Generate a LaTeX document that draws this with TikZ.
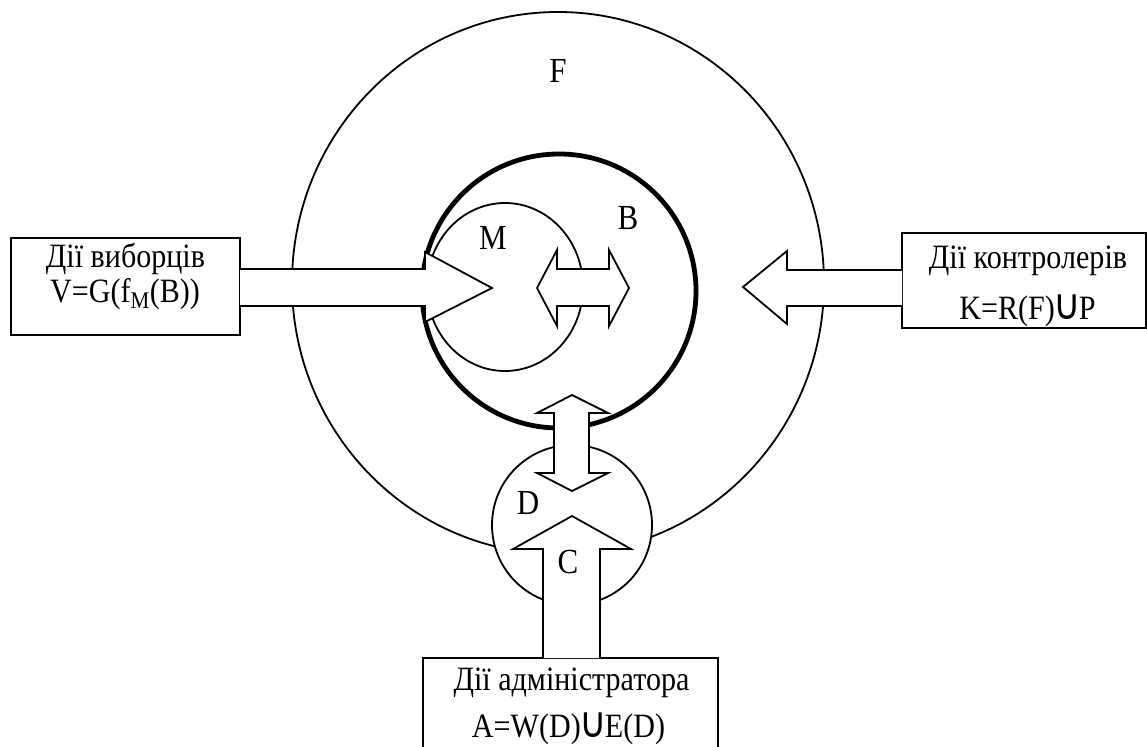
\documentclass[tikz,border=0pt]{standalone}
\usepackage{fontspec}
\setmainfont{Liberation Serif}
\newfontfamily\symfont{DejaVu Sans}[Scale=1.25]
\usetikzlibrary{shapes.geometric}
\newcommand{\unionsym}{\kern-1.5pt{\symfont ∪}\kern-2pt}
\newcommand{\tall}[1]{\scalebox{0.97}[1.1]{#1}}
\begin{document}
\begin{tikzpicture}[x=1pt,y=-1pt,
  thin line/.style={line width=1.8pt},
  ring/.style={ellipse, draw, thin line, inner sep=0pt},
  thick ring/.style={circle, draw, line width=4.8pt, inner sep=0pt},
  blockarrow/.style={draw, fill=white, thin line, line join=miter},
  actionbox/.style={draw, thin line, fill=white},
  lbl/.style={font=\fontsize{32}{36}\selectfont, inner sep=0pt},
  boxtext/.style={font=\fontsize{31}{36}\selectfont, inner sep=0pt, anchor=base}]
\useasboundingbox (0,0) rectangle (1147,746);
\clip (0,0) rectangle (1147,746);

% outer field F, working set B, subset M and data store D
\node[ring, minimum width=532pt, minimum height=542pt] (F) at (558,283) {};
\node[thick ring, minimum size=274pt] (B) at (559,291) {};
\node[ring, minimum width=156pt, minimum height=168pt] (M) at (505,287) {};
\node[ring, fill=white, minimum width=160pt, minimum height=160pt] (D) at (572,525) {};

% set labels
\node[lbl] (lF) at (558,71) {\tall{F}};
\node[lbl] (lM) at (493,238) {\tall{M}};
\node[lbl] (lB) at (628,218) {\tall{B}};
\node[lbl] (lD) at (528,503) {\tall{D}};

% action boxes
\draw[actionbox] (11,238) rectangle (240,335);
\draw[actionbox] (902,233) rectangle (1146,328);
\draw[actionbox] (423,658) rectangle (718,770);

% voters' action into B
\draw[blockarrow] (240,269) -- (425,269) -- (425,252) -- (492,288) -- (425,322) -- (425,306) -- (240,306);
% exchange between M and B
\draw[blockarrow] (537,288) -- (557,250) -- (557,269) -- (609,269) -- (609,250) -- (629,288)
  -- (609,326) -- (609,306) -- (557,306) -- (557,326) -- cycle;
% controllers' action on F
\draw[blockarrow] (902,270) -- (787,270) -- (787,251) -- (743,287) -- (787,324) -- (787,306) -- (902,306);
% exchange between B and D
\draw[blockarrow] (572,395) -- (608,413) -- (589,413) -- (589,473) -- (608,473) -- (572,491)
  -- (537,473) -- (554,473) -- (554,413) -- (537,413) -- cycle;
% administrator's action C into D
\draw[blockarrow] (543,658) -- (543,549) -- (513,549) -- (572,516) -- (631,549) -- (600,549) -- (600,658);
\node[lbl] (lC) at (568,562) {\tall{C}};

% box texts
\node[boxtext] (v1) at (125.5,267) {\tall{Дії виборців}};
\node[boxtext] (v2) at (125,302) {\tall{V=G(f\textsubscript{M}(B))}};
\node[boxtext] (k1) at (1028,268) {\tall{Дії контролерів}};
\node[boxtext] (k2) at (1027.5,319) {\tall{K=R(F)\unionsym P}};
\node[boxtext] (a1) at (571.5,690) {\tall{Дії адміністратора}};
\node[boxtext] (a2) at (568.5,737) {\tall{A=W(D)\unionsym E(D)}};
\end{tikzpicture}
\end{document}
